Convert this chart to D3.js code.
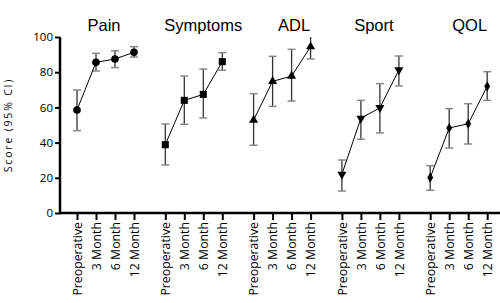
<!DOCTYPE html>
<html>
<head>
<meta charset="utf-8">
<script src="https://cdn.jsdelivr.net/npm/d3@7"></script>
<style>
  body { margin: 0; background: #fff; }
  svg text { fill: #000; }
</style>
</head>
<body>
<div id="chart-area"></div>
<script>
// data
const groups = ['Pain', 'Symptoms', 'ADL', 'Sport', 'QOL'];
const timepoints = ['Preoperative', '3 Month', '6 Month', '12 Month'];
const yTicks = [0, 20, 40, 60, 80, 100];

const painMean = [58.5, 85.6, 87.5, 91.3];
const painLow = [46.8, 80.7, 82.6, 88.6];
const painHigh = [69.9, 90.7, 92.2, 94.5];

const symptomsMean = [38.8, 64.0, 67.4, 86.0];
const symptomsLow = [27.3, 50.4, 54.0, 81.1];
const symptomsHigh = [50.6, 77.8, 81.8, 91.1];

const adlMean = [52.8, 74.8, 77.8, 94.5];
const adlLow = [38.5, 60.6, 63.6, 87.5];
const adlHigh = [67.8, 89.0, 93.0, 102];

const sportMean = [22.0, 53.8, 59.8, 81.3];
const sportLow = [12.5, 41.9, 45.5, 72.2];
const sportHigh = [30.1, 64.0, 73.5, 89.2];

const qolMean = [20.1, 48.3, 50.7, 72.0];
const qolLow = [12.9, 36.9, 39.2, 64.0];
const qolHigh = [26.9, 59.3, 62.1, 80.3];

const means = [painMean, symptomsMean, adlMean, sportMean, qolMean];
const lows = [painLow, symptomsLow, adlLow, sportLow, qolLow];
const highs = [painHigh, symptomsHigh, adlHigh, sportHigh, qolHigh];

// Set Size for Chart (svg)
const W = 500, H = 303;
const margin = {left: 60, right: 0, top: 37, bottom: 90};
const width = W - margin.left - margin.right;
const height = H - margin.top - margin.bottom;

const svg = d3.select('#chart-area')
  .append('svg')
  .attr('width', W)
  .attr('height', H);

let g = svg.append('g')
  .attr('transform', `translate(${margin.left}, ${margin.top})`);

const y = d3.scaleLinear().domain([0, 100]).range([height, 0]);

const x0 = d3.scaleBand()
  .domain(groups)
  .range([0, 441.5]);

const x1 = d3.scalePoint()
  .domain(timepoints)
  .range([17, 74]);

const xPos = (grp, tp) => x0(grp) + x1(tp);

// marker shapes per group
const symbols = [
  d3.symbol().type(d3.symbolCircle).size(46),
  d3.symbol().type(d3.symbolSquare).size(50),
  d3.symbol().type(d3.symbolTriangle).size(36),
  d3.symbol().type(d3.symbolTriangle).size(36),
  d3.symbol().type(d3.symbolDiamond).size(30)
];

// clip to plot area
svg.append('clipPath').attr('id', 'plot-clip')
  .append('rect')
  .attr('x', -5).attr('y', 0)
  .attr('width', width + 10).attr('height', height + 5);

const plot = g.append('g').attr('clip-path', 'url(#plot-clip)');

groups.forEach((grp, gi) => {
  const pts = timepoints.map((tp, i) => ({
    x: xPos(grp, tp),
    m: means[gi][i], lo: lows[gi][i], hi: highs[gi][i]
  }));

  const grpG = plot.append('g').attr('class', 'group');

  // error bar stems
  grpG.selectAll('line.stem')
    .data(pts)
    .enter().append('line')
    .attr('class', 'stem')
    .attr('x1', d => d.x).attr('x2', d => d.x)
    .attr('y1', d => y(d.lo)).attr('y2', d => y(d.hi))
    .attr('stroke', '#333')
    .attr('stroke-width', 1.3);

  // caps
  const caps = [];
  pts.forEach(d => {
    if (d.hi <= 100) caps.push({x: d.x, v: d.hi});
    caps.push({x: d.x, v: d.lo});
  });
  grpG.selectAll('line.cap')
    .data(caps)
    .enter().append('line')
    .attr('class', 'cap')
    .attr('x1', d => d.x - 4).attr('x2', d => d.x + 4)
    .attr('y1', d => y(d.v)).attr('y2', d => y(d.v))
    .attr('stroke', '#888')
    .attr('stroke-width', 1.5);

  // connecting line
  grpG.append('path')
    .datum(pts)
    .attr('fill', 'none')
    .attr('stroke', '#000')
    .attr('stroke-width', 1)
    .attr('d', d3.line().x(d => d.x).y(d => y(d.m)));

  // markers
  grpG.selectAll('path.marker')
    .data(pts)
    .enter().append('path')
    .attr('class', 'marker')
    .attr('d', symbols[gi])
    .attr('transform', d => `translate(${d.x}, ${y(d.m)})${gi === 3 ? ' rotate(180)' : ''}`)
    .attr('fill', '#000');
});

// group titles
const titleShift = [-1.5, 9.5, 12, 3.5, 11];
g.selectAll('text.title')
  .data(groups)
  .enter().append('text')
  .attr('class', 'title')
  .attr('x', (d, i) => x0(d) + 45.5 + titleShift[i])
  .attr('y', -6)
  .attr('text-anchor', 'middle')
  .attr('font-family', 'Liberation Sans, Arial, sans-serif')
  .attr('font-size', '16.5px')
  .text(d => d);

// Y Axis
const yAxis = g.append('g')
  .attr('class', 'y-axis')
  .call(d3.axisLeft(y).tickValues(yTicks).tickSize(5).tickPadding(2));
yAxis.selectAll('text')
  .attr('font-family', 'Open Sans, sans-serif')
  .attr('font-size', '11.5px');
yAxis.selectAll('line').attr('stroke-width', 2);
yAxis.select('.domain').attr('stroke-width', 2.5)
  .attr('d', `M0,${height + 1}V0`);

// X Axis (one per group, sharing a baseline)
g.append('line')
  .attr('x1', -1).attr('x2', W)
  .attr('y1', height).attr('y2', height)
  .attr('stroke', '#000')
  .attr('stroke-width', 2.5);

groups.forEach(grp => {
  const ax = g.append('g')
    .attr('transform', `translate(${x0(grp)}, ${height})`)
    .call(d3.axisBottom(x1).tickSize(7).tickPadding(3));
  ax.select('.domain').remove();
  ax.selectAll('line').attr('stroke-width', 2);
  ax.selectAll('text')
    .attr('font-family', 'Open Sans, sans-serif')
    .attr('font-size', '12.3px')
    .attr('text-anchor', 'end')
    .attr('transform', 'rotate(-90)')
    .attr('x', -9)
    .attr('y', 0)
    .attr('dy', '0.35em');
});

// Y Label
g.append('text')
  .attr('x', -(height / 2))
  .attr('y', -48)
  .attr('font-family', 'Open Sans, sans-serif')
  .attr('font-size', '10.5px')
  .attr('letter-spacing', '1.8px')
  .attr('text-anchor', 'middle')
  .attr('transform', 'rotate(-90)')
  .text('Score (95% CI)');
</script>
</body>
</html>
